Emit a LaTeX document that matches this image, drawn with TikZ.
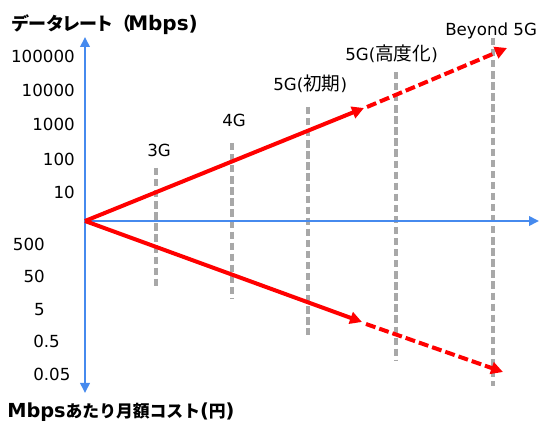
\documentclass[tikz,border=0pt]{standalone}
\usepackage{fontspec}
\setmainfont{DejaVu Sans}
\newfontfamily\jp{Noto Sans CJK JP}
\newfontfamily\jpp[RawFeature=+palt]{Noto Sans CJK JP}
\usetikzlibrary{arrows.meta}
\definecolor{axisblue}{RGB}{70,138,238}
\definecolor{gridgray}{RGB}{168,168,168}
\definecolor{trendred}{RGB}{255,0,0}
\newcommand{\lsz}{\fontsize{12.5}{14}\selectfont}
\newcommand{\jsz}{\fontsize{14}{16}\selectfont}
\begin{document}
\begin{tikzpicture}[x=0.75pt,y=-0.75pt,
  lbl/.style={inner sep=0pt, anchor=base west, font=\lsz},
  num/.style={inner sep=0pt, anchor=base east, font=\lsz},
  gen/.style={draw=gridgray, line width=2.4pt, dash pattern=on 5.5pt off 2.8pt},
  axis/.style={draw=axisblue, line width=2pt, -{Triangle[length=7.5pt,width=7pt]}},
  trend/.style={draw=trendred, line width=3pt, -{Triangle[length=9pt,width=9pt]}},
  trendd/.style={trend, dash pattern=on 7.5pt off 3pt}]
\useasboundingbox (0,0) rectangle (540,424);

% coordinates
\coordinate (O) at (85,221);
\coordinate (ytop) at (85,37);
\coordinate (ybot) at (85,393);
\coordinate (xend) at (539,221);
\coordinate (g3t) at (156,168);  \coordinate (g3b) at (156,288);
\coordinate (g4t) at (232,143);  \coordinate (g4b) at (232,299);
\coordinate (g5t) at (308,107);  \coordinate (g5b) at (308,335);
\coordinate (g6t) at (396,72);   \coordinate (g6b) at (396,360);
\coordinate (g7t) at (493,38);   \coordinate (g7b) at (493,386);
\coordinate (u1) at (364,108);   \coordinate (u1s) at (367,107); \coordinate (u2) at (507,48);
\coordinate (d1) at (362,322);   \coordinate (d1s) at (366,324); \coordinate (d2) at (503,372);

% generation dashed lines
\draw[gen] (g3t) -- (g3b);
\draw[gen] (g4t) -- (g4b);
\draw[gen] (g5t) -- (g5b);
\draw[gen] (g6t) -- (g6b);
\draw[gen] (g7t) -- (g7b);

% axes
\draw[axis] (O) -- (ytop);
\draw[axis] (O) -- (ybot);
\draw[axis] (O) -- (xend);

% trends
\draw[trend] (O) -- (u1);
\draw[trendd] (u1s) -- (u2);
\draw[trend] (O) -- (d1);
\draw[trendd] (d1s) -- (d2);

% titles
\node[inner sep=0pt, anchor=base west] (title) at (12,31)
  {\makebox[87pt][l]{\bfseries\fontsize{13.5}{16}\selectfont{\jpp データレート}\hspace{1pt}{\jp （}}{\bfseries\fontsize{15}{17}\selectfont Mbps)}};
\node[inner sep=0pt, anchor=base west] (xtitle) at (7,417)
  {{\bfseries\fontsize{14.5}{17}\selectfont Mbps}{\jp\bfseries\fontsize{12.6}{15}\selectfont あたり月額コスト}{\bfseries\fontsize{14.5}{17}\selectfont (}{\jp\bfseries\fontsize{12.6}{15}\selectfont 円}{\bfseries\fontsize{14.5}{17}\selectfont )}};

% y labels (upper)
\node[num] (n1) at (75,63)  {100000};
\node[num] (n2) at (75,97)  {10000};
\node[num] (n3) at (75,131) {1000};
\node[num] (n4) at (75,166) {100};
\node[num] (n5) at (75,199) {10};
% y labels (lower)
\node[num] (c1) at (45,251) {500};
\node[num] (c2) at (45,283) {50};
\node[num] (c3) at (45,316) {5};
\node[lbl] (c4) at (33,348) {0.5};
\node[lbl] (c5) at (33,381) {0.05};

% generation labels
\node[lbl] (l3) at (147,157) {3G};
\node[lbl] (l4) at (222,127) {4G};
\node[lbl] (l5) at (273,91)  {5G({\jp\jsz 初期})};
\node[lbl] (l6) at (345,61)  {5G({\jp\jsz 高度化})};
\node[lbl] (l7) at (445,36)  {Beyond 5G};
\end{tikzpicture}
\end{document}
